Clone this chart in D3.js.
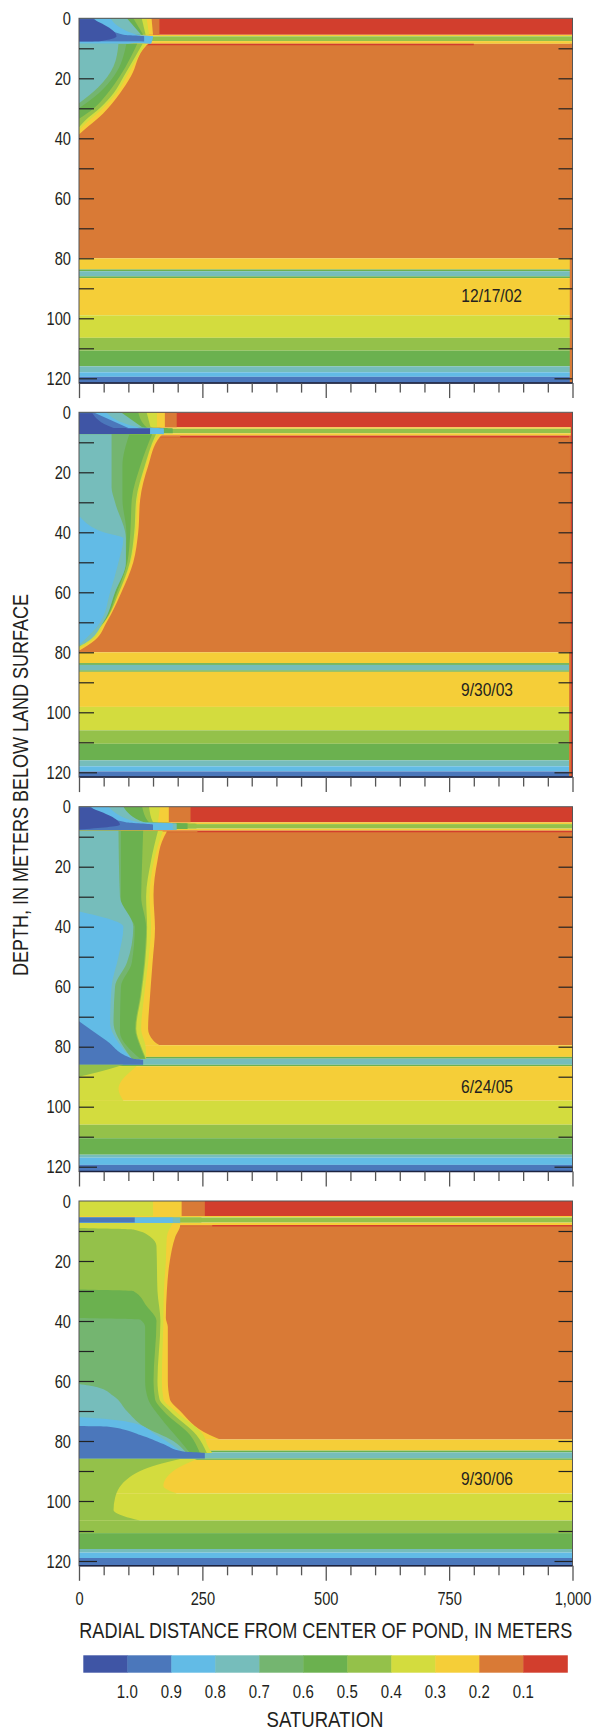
<!DOCTYPE html>
<html>
<head>
<meta charset="utf-8">
<title>Saturation beneath pond</title>
<script src="https://cdnjs.cloudflare.com/ajax/libs/d3/7.8.5/d3.min.js"></script>
<style>
html, body { margin: 0; padding: 0; background: #fff; }
svg { display: block; }
text { font-family: "Liberation Sans", Arial, sans-serif; fill: #231f20; }
.tick text { font-size: 19px; }
.tick line { stroke: #222; stroke-width: 1.2; }
.xaxis .tick line { stroke: #555; stroke-width: 1.3; }
</style>
</head>
<body>
<script>
//------------------------------------------------------------------------------
// Data: depth in meters, radial distance in meters, saturation

var panelDates = ['12/17/02', '9/30/03', '6/24/05', '9/30/06'];
var depthTicks = d3.range(0, 121, 10);
var distanceTicks = d3.range(0, 1001, 50);
var legendEdges = [1.1, 1.0, 0.9, 0.8, 0.7, 0.6, 0.5, 0.4, 0.3, 0.2, 0.1, 0];
var legendLabels = [1.0, 0.9, 0.8, 0.7, 0.6, 0.5, 0.4, 0.3, 0.2, 0.1];
var satBreaks = [0.1, 0.2, 0.3, 0.4, 0.5, 0.6, 0.7, 0.8, 0.9, 1.0];
var satColors = ['#d23e2d', '#d97a36', '#f5ce38', '#d3dc3e', '#94c14a', '#6bb14f',
	'#74b570', '#76bdbb', '#62bbe6', '#4b77bb', '#3f55a5'];

// horizontal layers, same order of saturations in all four panels
var bandSats = [0.05, 0.25, 0.45, 0.25, 0.15, 0.25, 0.55, 0.75, 0.55, 0.25, 0.35, 0.45, 0.55, 0.75, 0.85, 0.95];
var bandEdges1 = [0, 5.5, 6, 7.6, 8.5, 80, 83.7, 84.3, 86, 86.6, 99, 106.5, 110.8, 116, 118, 119.5, 121.6];
var bandEdges2 = [0, 5, 5.5, 7, 7.8, 80, 83.6, 84.2, 86, 86.5, 98.2, 106, 110.5, 116, 118, 119.7, 121.6];
var bandEdges3 = [0, 5.2, 5.8, 7.3, 8, 79.5, 83.4, 84, 86, 86.5, 98, 106, 110.5, 116, 117, 119.4, 121.6];
var bandEdges4 = [0, 5, 5.5, 7.2, 8, 79.5, 83.2, 83.8, 85.8, 86.3, 97.5, 106.5, 110.7, 116, 117.2, 119, 121.7];

// wetting front: [saturation, [[depth, distance], ...]], painted outer first
var front1 = [
	[0.05, [[8.5, 800], [9, 800]]],
	[0.15, [[0, 163], [5.5, 163]]],
	[0.25, [[0, 147], [5.5, 150]]],
	[0.35, [[0, 137], [5.5, 142]]],
	[0.45, [[0, 127], [5.5, 135]]],
	[0.55, [[0, 110], [5.5, 130]]],
	[0.75, [[0, 97], [5.5, 126]]],
	[0.85, [[0, 63], [5.5, 118], [6, 150], [8.5, 146]]],
	[0.95, [[0, 30], [5.5, 90], [6, 132], [7.7, 132]]],
	[1.05, [[0.3, 29], [6, 76], [7.7, 40], [7.8, 0]]],
	[0.25, [[8.5, 142], [9, 137], [19.4, 105], [25, 83], [31.7, 49], [36, 19], [38.7, 0]]],
	[0.35, [[8.5, 135], [19, 98], [25, 76], [31, 42], [35, 14], [37.4, 0]]],
	[0.45, [[8.5, 129], [19, 92], [25, 70], [30, 42], [34, 13], [36.3, 0]]],
	[0.55, [[8.5, 118], [19, 84], [25, 58], [30, 30], [33.5, 0]]],
	[0.65, [[8.5, 96], [19, 72], [25, 40], [30, 0]]],
	[0.75, [[8.5, 80], [16, 70], [23, 39], [28.3, 0]]],
	[0.85, [[7.8, 130], [8.5, 100]]]
];

var front2 = [
	[0.05, [[7.8, 1000], [8.4, 1000]]],
	[0.15, [[0, 198], [5, 198]]],
	[0.15, [[7.8, 205], [8.4, 205]]],
	[0.25, [[0, 174], [5, 174]]],
	[0.35, [[0, 158], [5, 158]]],
	[0.45, [[0, 137], [5, 145]]],
	[0.55, [[0, 120], [5, 137], [5.4, 190], [7, 190]]],
	[0.75, [[0, 85], [5, 128]]],
	[0.85, [[0, 55], [5, 120], [5.4, 172], [7.3, 172]]],
	[0.95, [[0, 29], [5.2, 100]]],
	[1.05, [[0.3, 27], [5.2, 70], [5.3, 144], [7.3, 144]]],
	[0.25, [[7.3, 170], [8, 165], [18, 140], [29, 124], [40, 120], [50, 110], [60, 86], [70, 56], [76, 32], [79.3, 2]]],
	[0.35, [[7.3, 164], [8, 160], [18, 135], [29, 119], [40, 115], [50, 105], [60, 82], [70, 52], [76, 27], [78.6, 2]]],
	[0.45, [[7.3, 156], [8, 154], [18, 133], [29, 116], [40, 112], [50, 103], [60, 81], [70, 51], [78, 2]]],
	[0.55, [[7.3, 148], [18, 124], [29, 107], [40, 104], [50, 98], [60, 77], [70, 50], [77.5, 2]]],
	[0.65, [[7.3, 102], [18, 88], [29, 88], [40, 96], [50, 95], [60, 73], [70, 49], [77, 12]]],
	[0.75, [[7.3, 66], [25, 66], [30, 73], [42, 95], [50, 95], [60, 73], [70, 49], [77, 12], [78, 0]]],
	[0.85, [[35, 3], [40, 50], [42, 90], [50, 80], [60, 63], [70, 43], [77, 4]]]
];

var front3 = [
	[0.05, [[8, 1000], [8.5, 1000]]],
	[0.15, [[0, 226], [5.2, 226]]],
	[0.15, [[8, 240], [8.6, 240]]],
	[0.25, [[0, 182], [5.2, 182]]],
	[0.35, [[0, 164], [5.2, 160]]],
	[0.45, [[0, 142], [5.2, 150], [5.7, 238], [7.3, 238]]],
	[0.55, [[0, 128], [5.2, 142], [5.6, 220], [7.4, 220]]],
	[0.75, [[0, 90], [5.2, 132], [5.6, 198], [7.8, 198]]],
	[0.85, [[0, 60], [5.2, 120], [5.6, 190], [7.8, 190]]],
	[0.95, [[0, 24], [5.2, 95], [6, 150], [7.8, 150]]],
	[1.05, [[0.3, 22], [6, 83], [7.6, 0]]],
	[0.25, [[8.3, 178], [11.7, 168], [18, 159], [29.4, 151], [40.5, 154], [52, 149], [63, 144], [74, 140], [78, 151], [79.6, 164]]],
	[0.35, [[8, 170], [18, 152], [30, 143], [40, 146], [52, 140], [63, 132], [74, 126], [80, 135], [84, 136]]],
	[0.45, [[8, 160], [18, 146], [30, 136], [40, 138], [52, 134], [63, 126], [74, 116], [80, 126], [84, 136]]],
	[0.55, [[8, 130], [18, 128], [30, 126], [40, 136], [52, 132], [63, 124], [74, 114], [80, 124], [84, 134]]],
	[0.65, [[8, 85], [33, 85], [40, 113], [52, 107], [60, 85], [75, 83], [84, 124]]],
	[0.75, [[8, 80], [30, 83], [40, 110], [52, 97], [60, 73], [72, 70], [80, 90], [84, 107]]],
	[0.85, [[35, 3], [40, 90], [50, 80], [60, 66], [72, 63], [80, 86], [84.5, 110]]],
	[0.95, [[71.5, 0], [78, 56], [84, 110], [84.4, 130], [86, 130]]],
	[0.35, [[86.5, 117], [94, 80], [98, 90]]],
	[0.45, [[86, 90], [88, 49], [90, 0]]]
];

var front4 = [
	[0.05, [[8, 1000], [8.5, 1000]]],
	[0.15, [[0, 255], [5, 255]]],
	[0.15, [[8, 270], [8.6, 270]]],
	[0.25, [[0, 208], [5, 208]]],
	[0.35, [[0, 150], [5, 150]]],
	[0.45, [[5.5, 248], [7.2, 248]]],
	[0.75, [[5.5, 205], [7.4, 205]]],
	[0.85, [[5.5, 190], [7.4, 190]]],
	[0.95, [[5.5, 113], [7.2, 113]]],
	[0.25, [[7.4, 205], [8, 205], [12, 195], [20, 184], [30, 178], [39, 176], [42, 180], [60, 180], [66, 184], [70, 205], [78, 265], [79.5, 286]]],
	[0.35, [[7.4, 190], [12, 178], [20, 176], [30, 172], [40, 171], [60, 168], [66, 171], [70, 195], [78, 252], [82, 262], [84, 270]]],
	[0.45, [[9, 0], [9.5, 110], [12, 145], [15, 157], [30, 159], [40, 165], [60, 159], [66, 163], [70, 184], [78, 238], [84, 259]]],
	[0.55, [[29.5, 0], [30, 110], [35, 137], [40, 157], [60, 151], [66, 154], [70, 171], [78, 225], [84, 245]]],
	[0.65, [[39, 0], [39.5, 124], [42, 134], [60, 134], [66, 140], [72, 164], [80, 205], [84, 225]]],
	[0.75, [[61, 0], [62, 36], [65, 70], [70, 97], [75, 130], [80, 191], [84, 218]]],
	[0.85, [[72, 0], [72.5, 43], [74, 110], [78, 157], [84, 211]]],
	[0.95, [[75, 0], [75.2, 56], [78, 124], [81, 171], [83.5, 211], [84, 255], [85.8, 255]]],
	[0.35, [[86, 239], [90, 191], [95, 171], [97.5, 198]]],
	[0.45, [[86, 205], [88, 157], [92, 103], [99, 73], [103, 70], [105, 90], [106.5, 124]]]
];

var fronts = [front1, front2, front3, front4];
var bandEdges = [bandEdges1, bandEdges2, bandEdges3, bandEdges4];

// strip along the outer boundary: [saturation, distance, depth from, panel]
var edgeStrips = [
	[0.15, 994.5, 8.5, 0],
	[0.15, 993, 8, 1],
	[0.05, 996.6, 0, 1]
];

//------------------------------------------------------------------------------
// Layout

var svg = d3.select('body').append('svg').attr('width', 593).attr('height', 1731);

var panelTops = [18.3, 412.3, 806.7, 1201];
var dateEnds = [522, 513, 513, 513];
var dateBases = [302, 696, 1093, 1485];
var bottomDepth = 121.6;

var satColor = d3.scaleThreshold().domain(satBreaks).range(satColors);
var x = d3.scaleLinear().domain([0, 1000]).range([79, 572.5]);

// the installed fonts have no condensed face, so squeeze the glyphs
function narrow(selection, factor)
{
	selection.each(function()
	{
		var len = this.getComputedTextLength();
		if (len > 0)
			d3.select(this)
				.attr('textLength', len * factor)
				.attr('lengthAdjust', 'spacingAndGlyphs');
	});
}

//------------------------------------------------------------------------------
// Panels

panelTops.forEach(function(top, i)
{
	var y = d3.scaleLinear().domain([0, 120]).range([top, top + 360]);
	var g = svg.append('g').attr('class', 'panel');
	var clip = 'panel-clip' + i;

	g.append('clipPath').attr('id', clip).append('rect')
		.attr('x', x(0)).attr('y', y(0))
		.attr('width', x(1000) - x(0)).attr('height', y(bottomDepth) - y(0));

	var field = g.append('g').attr('clip-path', 'url(#' + clip + ')');

	field.selectAll('rect.band')
		.data(bandSats)
		.enter().append('rect')
		.attr('class', 'band')
		.attr('x', x(0))
		.attr('width', x(1000) - x(0))
		.attr('y', function (d, k) { return y(bandEdges[i][k]); })
		.attr('height', function (d, k) { return y(bandEdges[i][k + 1]) - y(bandEdges[i][k]); })
		.attr('fill', function (d) { return satColor(d); });

	var area = d3.area()
		.x0(x(0))
		.x1(function (d) { return x(d[1]); })
		.y(function (d) { return y(d[0]); })
		.curve(d3.curveMonotoneY);

	field.selectAll('path.front')
		.data(fronts[i])
		.enter().append('path')
		.attr('class', 'front')
		.attr('d', function (d) { return area(d[1]); })
		.attr('fill', function (d) { return satColor(d[0]); });

	field.selectAll('rect.strip')
		.data(edgeStrips.filter(function (d) { return d[3] == i; }))
		.enter().append('rect')
		.attr('class', 'strip')
		.attr('x', function (d) { return x(d[1]); })
		.attr('width', function (d) { return x(1000) - x(d[1]); })
		.attr('y', function (d) { return y(d[2]); })
		.attr('height', function (d) { return y(bottomDepth) - y(d[2]); })
		.attr('fill', function (d) { return satColor(d[0]); });

	// frame
	g.append('rect')
		.attr('x', x(0)).attr('y', y(0))
		.attr('width', x(1000) - x(0)).attr('height', y(bottomDepth) - y(0))
		.attr('fill', 'none').attr('stroke', '#555').attr('stroke-width', 1);
	g.append('line')
		.attr('x1', x(0)).attr('x2', x(1000))
		.attr('y1', y(bottomDepth)).attr('y2', y(bottomDepth))
		.attr('stroke', '#1c2340').attr('stroke-width', 1.5);

	// depth axes, ticks point into the plot
	var left = g.append('g')
		.attr('transform', 'translate(' + x(0) + ',0)')
		.call(d3.axisLeft(y)
			.tickValues(depthTicks)
			.tickSize(-15)
			.tickPadding(8)
			.tickFormat(function (d) { return d % 20 ? '' : d; }));
	var right = g.append('g')
		.attr('transform', 'translate(' + x(1000) + ',0)')
		.call(d3.axisRight(y).tickValues(depthTicks).tickSize(-14).tickFormat(''));
	left.select('.domain').remove();
	right.select('.domain').remove();
	left.selectAll('.tick line').filter(function (d) { return d == 0; }).remove();
	right.selectAll('.tick line').filter(function (d) { return d == 0; }).remove();
	left.selectAll('.tick line').filter(function (d) { return d == 120; }).attr('x2', 18);
	right.selectAll('.tick line').filter(function (d) { return d == 120; }).attr('x2', -18);
	left.selectAll('text').call(narrow, 0.77);

	// distance axis
	var bottom = g.append('g')
		.attr('class', 'xaxis')
		.attr('transform', 'translate(0,' + y(bottomDepth) + ')')
		.call(d3.axisBottom(x)
			.tickValues(distanceTicks)
			.tickSize(9.5)
			.tickPadding(16)
			.tickFormat(function (d) { return i == 3 && d % 250 == 0 ? d3.format(',')(d) : ''; }));
	bottom.select('.domain').remove();
	bottom.selectAll('.tick line').filter(function (d) { return d % 250 == 0; }).attr('y2', 15);
	bottom.selectAll('text').call(narrow, 0.77);

	g.append('text')
		.attr('x', dateEnds[i]).attr('y', dateBases[i])
		.attr('text-anchor', 'end')
		.style('font-size', '19px')
		.text(panelDates[i])
		.call(narrow, 0.82);
});

//------------------------------------------------------------------------------
// Titles

svg.append('text')
	.attr('transform', 'translate(28,785) rotate(-90)')
	.attr('text-anchor', 'middle')
	.style('font-size', '21.5px')
	.attr('textLength', 382)
	.attr('lengthAdjust', 'spacingAndGlyphs')
	.text('DEPTH, IN METERS BELOW LAND SURFACE');

svg.append('text')
	.attr('x', 325.8).attr('y', 1638)
	.attr('text-anchor', 'middle')
	.style('font-size', '21.5px')
	.attr('textLength', 493)
	.attr('lengthAdjust', 'spacingAndGlyphs')
	.text('RADIAL DISTANCE FROM CENTER OF POND, IN METERS');

//------------------------------------------------------------------------------
// Legend

var legendX = d3.scaleLinear().domain([1.0, 0.1]).range([127.3, 523.3]);

svg.selectAll('rect.swatch')
	.data(d3.pairs(legendEdges))
	.enter().append('rect')
	.attr('class', 'swatch')
	.attr('x', function (d) { return legendX(d[0]); })
	.attr('width', function (d) { return legendX(d[1]) - legendX(d[0]) + 0.5; })
	.attr('y', 1655.3)
	.attr('height', 17.4)
	.attr('fill', function (d) { return satColor((d[0] + d[1]) / 2); });

svg.selectAll('text.legend')
	.data(legendLabels)
	.enter().append('text')
	.attr('class', 'legend')
	.attr('x', function (d) { return legendX(d); })
	.attr('y', 1698)
	.attr('text-anchor', 'middle')
	.style('font-size', '19px')
	.text(function (d) { return d.toFixed(1); })
	.call(narrow, 0.79);

svg.append('text')
	.attr('x', 325).attr('y', 1727)
	.attr('text-anchor', 'middle')
	.style('font-size', '21.5px')
	.attr('textLength', 117)
	.attr('lengthAdjust', 'spacingAndGlyphs')
	.text('SATURATION');
</script>
</body>
</html>
